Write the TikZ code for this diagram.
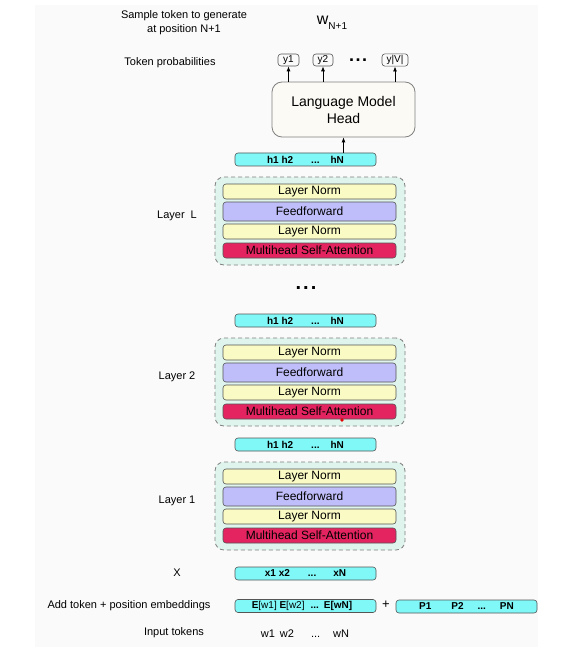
\documentclass[tikz,border=0pt]{standalone}
\usepackage{fontspec}
\setmainfont{Liberation Sans}
\usetikzlibrary{arrows.meta}
\definecolor{panel}{RGB}{250,250,250}
\definecolor{cyanbox}{RGB}{128,248,248}
\definecolor{lnyellow}{RGB}{250,250,196}
\definecolor{ffblue}{RGB}{192,190,250}
\definecolor{mhred}{RGB}{228,36,96}
\definecolor{mint}{RGB}{222,244,236}
\definecolor{headfill}{RGB}{252,250,244}
\definecolor{edge}{RGB}{85,85,85}
\tikzset{
  fs/.style={font=\fontsize{#1}{#1}\selectfont},
  blk/.style={draw=edge, line width=0.6pt, rounded corners=3pt, minimum width=173pt, inner sep=0pt, fs=12},
  lnbox/.style={blk, fill=lnyellow, minimum height=15pt},
  ffbox/.style={blk, fill=ffblue, minimum height=19pt},
  mhbox/.style={blk, fill=mhred, minimum height=15pt},
  layerbox/.style={draw=gray, line width=0.8pt, dash pattern=on 4pt off 3pt, fill=mint, rounded corners=9pt, minimum width=190pt, minimum height=88pt, inner sep=0pt},
  vecbox/.style={draw=edge, line width=0.6pt, fill=cyanbox, rounded corners=3pt, minimum width=141pt, minimum height=13pt, inner sep=0pt, font=\bfseries\fontsize{10}{10}\selectfont},
  ybox/.style={draw=edge, line width=0.6pt, rounded corners=3pt, minimum height=12pt, inner sep=1.5pt, fs=10},
  lbl/.style={fs=11, inner sep=0pt},
  arr/.style={line width=0.8pt, -{Latex[length=5pt,width=4pt]}}
}
\begin{document}
\begin{tikzpicture}[x=1pt,y=-1pt]
\useasboundingbox (0,0) rectangle (568,647);
\fill[panel] (35,5) rectangle (538,647);

% top labels
\node[lbl, align=center] (sample) at (184,23) {Sample token to generate\\[3pt]at position N+1};
\node[fs=16, inner sep=0pt] (wnext) at (332,23) {w{\fontsize{10}{10}\selectfont\raisebox{-5pt}{N+1}}};
\node[lbl] (tokprob) at (170,63) {Token probabilities};

% output probability boxes
\node[ybox, minimum width=21pt] (y1) at (288.5,60) {y1};
\node[ybox, minimum width=20pt] (y2) at (323,60) {y2};
\node[fs=18, inner sep=0pt] (ydots) at (358,60) {\textbf{.\hspace{1.5pt}.\hspace{1.5pt}.}};
\node[ybox, minimum width=26pt] (yV) at (395,60) {y|V|};

% LM head
\node[draw=gray, line width=0.8pt, fill=headfill, rounded corners=10pt, minimum width=143pt, minimum height=55pt, align=center, fs=14] (lmhead) at (343.5,109.5) {Language Model\\[3pt]Head};
\foreach \y in {y1,y2,yV} \draw[arr] (lmhead.north -| \y) -- (\y.south);

% layers
\foreach \n/\o/\lab in {L/0/{Layer\hspace{6pt}L}, 2/161/{Layer 2}, 1/285/{Layer 1}}{
  \node[vecbox] (h\n) at (305.5,159.5+\o) {h1 h2\hspace{18pt}...\hspace{11pt}hN};
  \node[layerbox] (layer\n) at (310,221+\o) {};
  \node[lnbox] (lna\n) at (309.5,191.5+\o) {Layer Norm};
  \node[ffbox] (ff\n) at (309.5,211.5+\o) {Feedforward};
  \node[lnbox] (lnb\n) at (309.5,231.5+\o) {Layer Norm};
  \node[mhbox] (mh\n) at (309.5,250.5+\o) {Multihead Self-Attention};
  \node[lbl] (lab\n) at (177,216+\o) {\lab};
}
\draw[arr] (hL.north -| lmhead.south) -- (lmhead.south);

\node[fs=20, inner sep=0pt] (ldots) at (306,288) {\textbf{.\hspace{2pt}.\hspace{2pt}.}};
\fill[red!90!black] (342,420) circle (1.8pt);

% inputs
\node[lbl] (xlab) at (177,573) {X};
\node[vecbox] (xbox) at (305.5,573.5) {x1 x2\hspace{18pt}...\hspace{17pt}xN};
\node[lbl] (addlab) at (129,606) {Add token + position embeddings};
\node[vecbox] (ebox) at (305.5,606) {E{\mdseries[w1]} E{\mdseries[w2]}\hspace{6pt}...\hspace{5pt}E[wN]\hspace*{7pt}};
\node[fs=13, inner sep=0pt] (plus) at (386,605) {+};
\node[vecbox] (pbox) at (466.5,606.5) {P1\hspace{20pt}P2\hspace{14pt}...\hspace{14pt}PN};
\node[lbl] (inlab) at (174,633) {Input tokens};
\node[fs=11, inner sep=0pt] (wtok) at (305,634) {w1\hspace{5pt}w2\hspace{17pt}...\hspace{13pt}wN};
\end{tikzpicture}
\end{document}
